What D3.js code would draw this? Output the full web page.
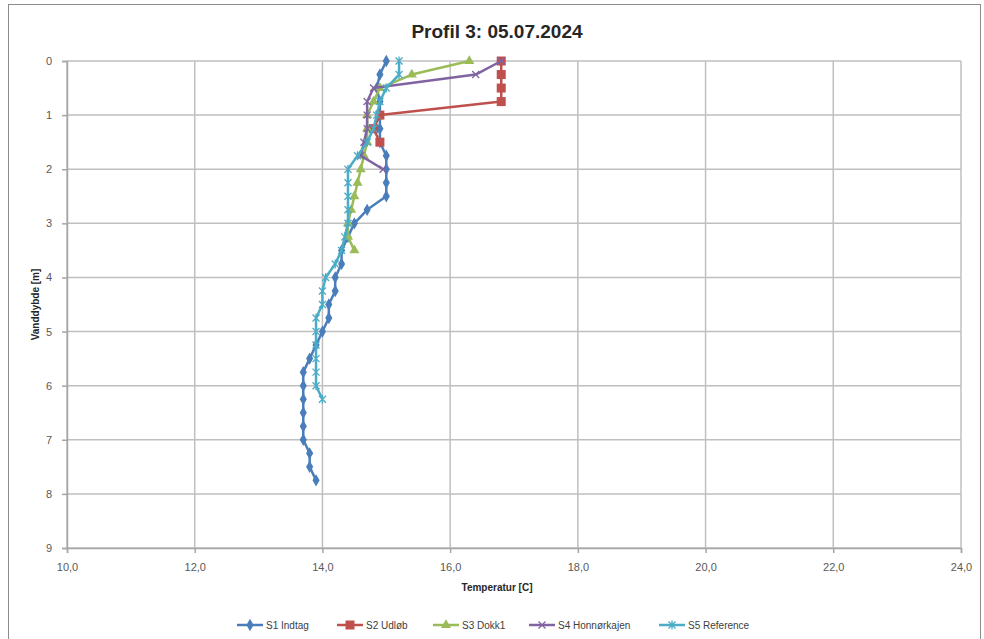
<!DOCTYPE html>
<html>
<head>
<meta charset="utf-8">
<script src="https://cdn.jsdelivr.net/npm/d3@7"></script>
<style>
  body { margin: 0; background: #fff; }
  text { font-family: "Liberation Sans", Arial, sans-serif; }
</style>
</head>
<body>
<div id="chart"></div>
<script>
// depths (m) and temperatures (C)
const depthsS1 = [0,0.25,0.5,0.75,1,1.25,1.5,1.75,2,2.25,2.5,2.75,3,3.25,3.5,3.75,4,4.25,4.5,4.75,5,5.25,5.5,5.75,6,6.25,6.5,6.75,7,7.25,7.5,7.75];
const tempS1 = [15.0,14.9,14.85,14.9,14.9,14.9,14.9,15.0,15.0,15.0,15.0,14.7,14.5,14.4,14.3,14.3,14.2,14.2,14.1,14.1,14.0,13.9,13.8,13.7,13.7,13.7,13.7,13.7,13.7,13.8,13.8,13.9];

const depthsS2 = [0,0.25,0.5,0.75,1,1.25,1.5];
const tempS2 = [16.8,16.8,16.8,16.8,14.9,14.8,14.9];

const depthsS3 = [0,0.25,0.5,0.75,1,1.25,1.5,1.75,2,2.25,2.5,2.75,3,3.25,3.5];
const tempS3 = [16.3,15.4,14.9,14.8,14.7,14.7,14.7,14.65,14.6,14.55,14.5,14.45,14.4,14.4,14.5];

const depthsS4 = [0,0.25,0.5,0.75,1,1.25,1.5,1.75,2];
const tempS4 = [16.8,16.4,14.8,14.7,14.7,14.7,14.65,14.6,14.95];

const depthsS5 = [0,0.25,0.5,0.75,1,1.25,1.5,1.75,2,2.25,2.5,2.75,3,3.25,3.5,3.75,4,4.25,4.5,4.75,5,5.25,5.5,5.75,6,6.25];
const tempS5 = [15.2,15.2,15.0,14.9,14.85,14.8,14.7,14.55,14.4,14.4,14.4,14.4,14.4,14.35,14.3,14.2,14.05,14.0,14.0,13.9,13.9,13.9,13.9,13.9,13.9,14.0];

const seriesNames = ["S1 Indtag","S2 Udløb","S3 Dokk1","S4 Honnørkajen","S5 Reference"];
const seriesColors = ["#4a7ebb","#c0504d","#9bbb59","#8064a2","#4bacc6"];
const seriesMarkers = ["diamond","square","triangle","x","star"];
const xTicks = [10,12,14,16,18,20,22,24];
const yTicks = [0,1,2,3,4,5,6,7,8,9];

const width = 984, height = 639;
const margin = {left: 67, right: 23, top: 61, bottom: 91};

const svg = d3.select("#chart").append("svg")
    .attr("width", width)
    .attr("height", height);

// outer chart frame
svg.append("rect")
    .attr("x", 8.5).attr("y", 4.5)
    .attr("width", 972).attr("height", 660)
    .attr("fill", "none")
    .attr("stroke", "#8c8c8c")
    .attr("stroke-width", 1);

const x = d3.scaleLinear().domain([10, 24]).range([margin.left, width - margin.right]);
const y = d3.scaleLinear().domain([0, 9]).range([margin.top, height - margin.bottom]);

// grid
svg.append("g").selectAll("line").data(xTicks).join("line")
    .attr("x1", d => x(d)).attr("x2", d => x(d))
    .attr("y1", y(0)).attr("y2", y(9))
    .attr("stroke", "#bfbfbf").attr("stroke-width", 1.5);
svg.append("g").selectAll("line").data(yTicks).join("line")
    .attr("x1", x(10)).attr("x2", x(24))
    .attr("y1", d => y(d)).attr("y2", d => y(d))
    .attr("stroke", "#bfbfbf").attr("stroke-width", 1.5);

// axes
const fmt = d => d3.format(".1f")(d).replace(".", ",");
const xAxis = svg.append("g")
    .attr("transform", `translate(0,${y(9)})`)
    .call(d3.axisBottom(x).tickValues(xTicks).tickFormat(fmt).tickSize(5).tickPadding(10));
const yAxis = svg.append("g")
    .attr("transform", `translate(${x(10)},0)`)
    .call(d3.axisLeft(y).tickValues(yTicks).tickSize(5).tickPadding(10));
[xAxis, yAxis].forEach(a => {
    a.select(".domain").attr("stroke", "#a6a6a6").attr("stroke-width", 1.5);
    a.selectAll(".tick line").attr("stroke", "#a6a6a6").attr("stroke-width", 1.5);
    a.selectAll(".tick text").attr("fill", "#595959").style("font-size", "11px")
        .style("font-family", "'Liberation Sans', Arial, sans-serif");
});

// titles
svg.append("text")
    .attr("x", 497).attr("y", 38)
    .attr("text-anchor", "middle")
    .style("font-size", "19px").style("font-weight", "bold")
    .attr("fill", "#262626")
    .text("Profil 3: 05.07.2024");
svg.append("text")
    .attr("x", 497).attr("y", 591)
    .attr("text-anchor", "middle")
    .style("font-size", "10px").style("font-weight", "bold")
    .attr("fill", "#262626")
    .text("Temperatur [C]");
svg.append("text")
    .attr("transform", `translate(39,${(y(0) + y(9)) / 2}) rotate(-90)`)
    .attr("text-anchor", "middle")
    .style("font-size", "10px").style("font-weight", "bold")
    .attr("fill", "#262626")
    .text("Vanddybde [m]");

// marker shapes
function drawMarker(g, type, color, cx, cy, s) {
    if (type === "diamond") {
        g.append("path").attr("d", d3.symbol(d3.symbolDiamond, s * s * 0.9)())
            .attr("transform", `translate(${cx},${cy})`).attr("fill", color);
    } else if (type === "square") {
        g.append("rect").attr("x", cx - s / 2 - 1).attr("y", cy - s / 2 - 1)
            .attr("width", s + 2).attr("height", s + 2).attr("fill", color);
    } else if (type === "triangle") {
        g.append("path").attr("d", d3.symbol(d3.symbolTriangle, s * s * 0.9)())
            .attr("transform", `translate(${cx},${cy})`).attr("fill", color);
    } else if (type === "x" || type === "star") {
        const r = s / 2;
        g.append("path")
            .attr("d", `M${cx - r},${cy - r}L${cx + r},${cy + r}M${cx - r},${cy + r}L${cx + r},${cy - r}` +
                (type === "star" ? `M${cx},${cy - r - 1}L${cx},${cy + r + 1}` : ""))
            .attr("stroke", color).attr("stroke-width", 1.3).attr("fill", "none");
    }
}

const series = [
    {depths: depthsS1, temps: tempS1},
    {depths: depthsS2, temps: tempS2},
    {depths: depthsS3, temps: tempS3},
    {depths: depthsS4, temps: tempS4},
    {depths: depthsS5, temps: tempS5}
];

const line = d3.line().x(d => x(d[1])).y(d => y(d[0]));

series.forEach((s, i) => {
    const pts = s.depths.map((d, j) => [d, s.temps[j]]);
    const g = svg.append("g");
    g.append("path")
        .datum(pts)
        .attr("d", line)
        .attr("fill", "none")
        .attr("stroke", seriesColors[i])
        .attr("stroke-width", 2.5)
        .attr("stroke-linejoin", "round");
    pts.forEach(p => drawMarker(g, seriesMarkers[i], seriesColors[i], x(p[1]), y(p[0]), 7));
});

// legend
const legendX = [237, 337, 433, 529, 659];
const legY = 625;
seriesNames.forEach((name, i) => {
    const g = svg.append("g");
    g.append("line")
        .attr("x1", legendX[i]).attr("x2", legendX[i] + 26)
        .attr("y1", legY).attr("y2", legY)
        .attr("stroke", seriesColors[i]).attr("stroke-width", 2.5);
    drawMarker(g, seriesMarkers[i], seriesColors[i], legendX[i] + 13, legY, 7);
    g.append("text")
        .attr("x", legendX[i] + 29).attr("y", legY + 4)
        .style("font-size", "10px")
        .attr("fill", "#404040")
        .text(name);
});
</script>
</body>
</html>
